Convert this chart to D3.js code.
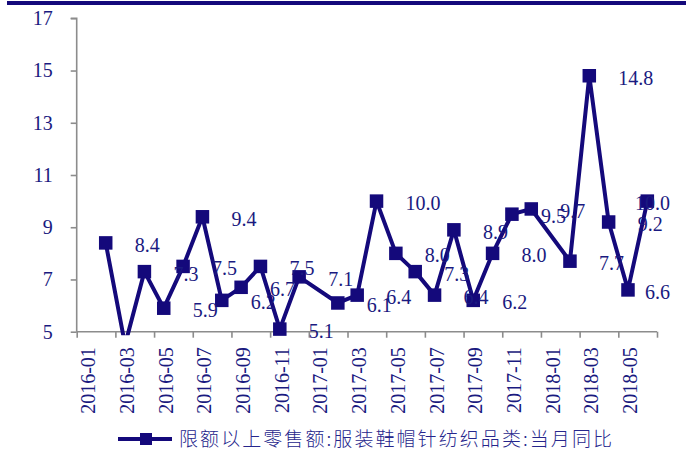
<!DOCTYPE html>
<html><head><meta charset="utf-8">
<script src="https://cdn.jsdelivr.net/npm/d3@7"></script>
<style>
html,body{margin:0;padding:0;background:#fff;}
svg{display:block;}
</style></head>
<body>
<script>
const months = ["2016-01","2016-02","2016-03","2016-04","2016-05","2016-06","2016-07","2016-08","2016-09","2016-10","2016-11","2016-12",
"2017-01","2017-02","2017-03","2017-04","2017-05","2017-06","2017-07","2017-08","2017-09","2017-10","2017-11","2017-12",
"2018-01","2018-02","2018-03","2018-04","2018-05","2018-06"];
const values = [null,8.4,4.5,7.3,5.9,7.5,9.4,6.2,6.7,7.5,5.1,7.1,
null,6.1,6.4,10.0,8.0,7.3,6.4,8.9,6.2,8.0,9.5,9.7,
null,7.7,14.8,9.2,6.6,10.0];
const yTicks = [5,7,9,11,13,15,17];
const xLabels = months.filter((m,i)=>i%2===0);
const seriesName = "限额以上零售额:服装鞋帽针纺织品类:当月同比";

const W=686,H=450;
const markColor="#14097b", textColor="#1a1a80", axisColor="#8c8c8c";
const numFont="Liberation Serif, DejaVu Serif, serif";
const left=76.7, right=657, y0=331.7, y1=18.3;

const svg=d3.select("body").append("svg").attr("width",W).attr("height",H);
svg.append("rect").attr("x",7).attr("y",1).attr("width",W-7).attr("height",4).attr("fill",markColor);

const x=d3.scaleBand().domain(months).range([left,right]).padding(0);
const xi=d3.scaleLinear().domain([0,months.length]).range([left,right]);
const y=d3.scaleLinear().domain([5,17]).range([y0,y1]);

// y axis
const ya=svg.append("g").attr("transform",`translate(${left},0)`)
  .attr("font-family",numFont).attr("font-size",20)
  .call(d3.axisLeft(y).tickValues(yTicks).tickSize(6).tickPadding(18).tickFormat(d3.format("d")));
ya.attr("font-family",numFont).attr("font-size",20);
ya.selectAll("path,line").attr("stroke",axisColor).attr("stroke-width",1.6);
ya.select(".domain").attr("d",`M-6,${y1}H0V${y0}`);
ya.selectAll("text").attr("fill",textColor).style("font-family",numFont).style("font-size","20px");

// x axis ticks
const xa=svg.append("g").attr("transform",`translate(0,${y0})`)
  .call(d3.axisBottom(xi).tickValues(d3.range(0,months.length+1,2)).tickSize(6).tickFormat(""));
xa.selectAll("path,line").attr("stroke",axisColor).attr("stroke-width",1.6);
xa.select(".domain").attr("d",`M${left},0H${right}`);

// x labels
svg.append("g").selectAll("text").data(xLabels).join("text")
  .attr("transform",d=>`translate(${x(d)+x.bandwidth()/2},${y0+15.5}) rotate(-90)`)
  .attr("text-anchor","end").attr("dy","0.45em")
  .attr("fill",textColor).style("font-family",numFont).style("font-size","20px")
  .text(d=>d);

// data
const pts=months.map((m,i)=>({m,v:values[i]})).filter(d=>d.v!==null);
svg.append("clipPath").attr("id","clip").append("rect")
  .attr("x",left).attr("y",0).attr("width",W-left).attr("height",y0+3.5);
const line=d3.line().x(d=>x(d.m)+x.bandwidth()/2).y(d=>y(d.v));
svg.append("path").datum(pts).attr("clip-path","url(#clip)")
  .attr("d",line).attr("fill","none").attr("stroke",markColor).attr("stroke-width",4).attr("stroke-linejoin","round");

const vis=pts.filter(d=>d.v>=5);
const ms=13.5;
svg.append("g").selectAll("rect").data(vis).join("rect")
  .attr("x",d=>x(d.m)+x.bandwidth()/2-ms/2).attr("y",d=>y(d.v)-ms/2)
  .attr("width",ms).attr("height",ms).attr("fill",markColor);

const lab=svg.append("g").selectAll("text").data(vis).join("text")
  .attr("y",d=>y(d.v)+2).attr("dy","0.35em")
  .attr("fill",textColor).style("font-family",numFont).style("font-size","20px")
  .text(d=>d3.format(".1f")(d.v));
lab.each(function(d){
  const w=this.getComputedTextLength();
  const cx=x(d.m)+x.bandwidth()/2+29;
  d3.select(this).attr("x",Math.min(cx,670-w));
});

// legend
const lg=svg.append("g");
lg.append("line").attr("x1",118).attr("x2",172).attr("y1",439).attr("y2",439).attr("stroke",markColor).attr("stroke-width",4);
lg.append("rect").attr("x",146-6).attr("y",439-6).attr("width",12).attr("height",12).attr("fill",markColor);
lg.append("text").attr("x",179).attr("y",439).attr("dy","0.36em")
  .attr("textLength",433).attr("lengthAdjust","spacing")
  .attr("fill","#26268c").style("font-family","'Noto Sans CJK SC',sans-serif").style("font-size","19px").style("font-weight","300")
  .text(seriesName);
</script>
</body></html>
